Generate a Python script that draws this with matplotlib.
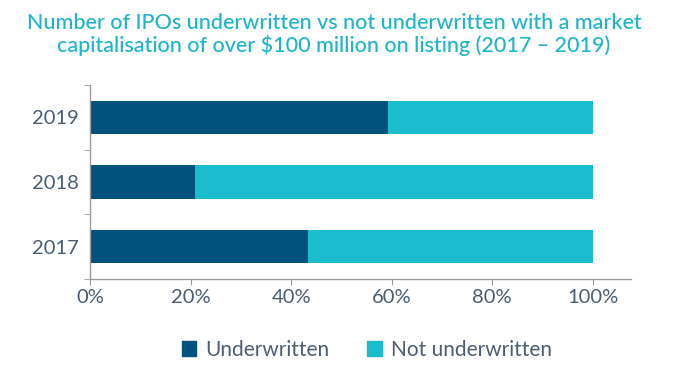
import matplotlib.pyplot as plt
from matplotlib.patches import Patch

plt.rcParams['font.family'] = ['Lato', 'DejaVu Sans']

years = ['2017', '2018', '2019']
underwritten = [43.4, 20.9, 59.3]
not_underwritten = [56.6, 79.1, 40.7]

dark = '#03527D'
light = '#1ABCCE'
text_col = '#4A5D72'
axis_col = '#9A9A9A'

fig = plt.figure(figsize=(7, 3.75), dpi=100)
ax = fig.add_axes([0.1286, 0.256, 0.7728, 0.517])

ypos = list(range(len(years)))
ax.barh(ypos, underwritten, height=0.52, color=dark, label='Underwritten')
ax.barh(ypos, not_underwritten, left=underwritten, height=0.52, color=light,
        label='Not underwritten')

ax.set_xlim(0, 107.6)
ax.set_ylim(-0.5, 2.5)
ax.set_xticks([0, 20, 40, 60, 80, 100])
ax.set_xticklabels(['0%', '20%', '40%', '60%', '80%', '100%'])
ax.set_yticks(ypos)
ax.set_yticklabels(years)
ax.set_yticks([-0.5, 0.5, 1.5, 2.5], minor=True)
ax.tick_params(axis='y', which='major', length=0, pad=8, labelsize=14.5, labelcolor=text_col)
ax.tick_params(axis='y', which='minor', length=4, color=axis_col, direction='out')
ax.tick_params(axis='x', length=4, color=axis_col, labelsize=14.5, labelcolor=text_col, pad=3)

for s in ['top', 'right']:
    ax.spines[s].set_visible(False)
for s in ['left', 'bottom']:
    ax.spines[s].set_color(axis_col)
    ax.spines[s].set_linewidth(1)

fig.text(0.477, 0.965,
         'Number of IPOs underwritten vs not underwritten with a market\n'
         'capitalisation of over $100 million on listing (2017 \u2013 2019)',
         ha='center', va='top', fontsize=15.5, color='#1DB5C9', linespacing=1.1,
         fontweight='medium')

handles = [Patch(color=dark), Patch(color=light)]
fig.legend(handles, ['Underwritten', 'Not underwritten'], loc='center',
           bbox_to_anchor=(0.524, 0.068), ncol=2, frameon=False, fontsize=15,
           labelcolor=text_col, handlelength=0.7, handleheight=0.7,
           handletextpad=0.45, columnspacing=1.8)

fig.savefig('out.png', dpi=100)
